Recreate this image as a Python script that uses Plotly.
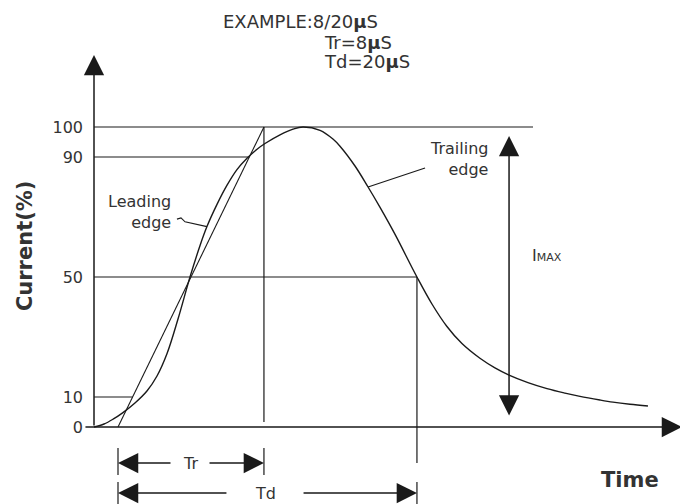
import numpy as np
import plotly.graph_objects as go

# Impulse current waveform (time in drawing units, current in % of peak)
time = [0, 0.67, 1.27, 1.93, 2.73, 3.53, 4.2, 4.87, 5.6, 6.4, 7.07, 7.53, 8.2, 8.87, 9.53,
        10.2, 10.87, 11.4, 12.4, 13.27, 13.93, 15.07, 15.93, 16.4, 17.4, 18.27, 19.07, 20.07,
        21.53, 22.53, 23.53, 24.53, 25.73, 26.73, 27.67, 28.93, 30.2, 31.4, 32.4, 33.73, 34.6,
        35.73, 36.93]
current = [0, 1.0, 2.6, 4.8, 8.0, 12.0, 17.0, 24.5, 36.0, 50, 60.5, 66.8, 74.2, 80.6, 85.8,
           89.6, 92.6, 94.5, 97.4, 99.3, 100, 98.9, 96.0, 93.6, 87.0, 80.0, 73.2, 64.2,
           50, 41.0, 33.5, 27.8, 22.9, 19.7, 17.3, 14.8, 12.8, 11.3, 10.2, 9.0, 8.3, 7.6, 7.0]

# Reference levels on the current axis
level_values = [0, 10, 50, 90, 100]
level_labels = ["0", "10", "50", "90", "100"]

# Front construction: virtual origin, rise span (Tr) and span to half value (Td)
t_origin = 1.6
tr_span = 9.73
td_span = 19.93
t_tr_end = t_origin + tr_span
t_td_end = t_origin + td_span

example_lines = ["EXAMPLE:8/20<b>μ</b>S", "Tr=8<b>μ</b>S", "Td=20<b>μ</b>S"]

INK = "#1a1a1a"
TXT = "#333333"
FONT = "DejaVu Sans"

t_peak = time[int(np.argmax(current))]
rise_t = [t for t in time if t <= t_peak]
rise_c = current[:len(rise_t)]
fall_t = time[len(rise_t) - 1:]
fall_c = current[len(rise_t) - 1:]


def front_line_t(pct):
    return t_origin + tr_span * pct / 100.0


def on_rise(t):
    return float(np.interp(t, rise_t, rise_c))


def on_fall(t):
    return float(np.interp(t, fall_t, fall_c))


fig = go.Figure()

# Straight front line through the virtual origin
fig.add_trace(go.Scatter(x=[t_origin, t_tr_end], y=[0, 100], mode="lines",
                         line=dict(color=INK, width=1.1), hoverinfo="skip"))
# Waveform
fig.add_trace(go.Scatter(x=time, y=current, mode="lines",
                         line=dict(color=INK, width=1.4, shape="spline", smoothing=1.0),
                         hoverinfo="skip"))

shapes = []


def seg(x0, y0, x1, y1, w=1.2):
    shapes.append(dict(type="line", xref="x", yref="y", x0=x0, y0=y0, x1=x1, y1=y1,
                       line=dict(color=INK, width=w)))


# Level lines
level_ends = {10: front_line_t(10), 50: t_td_end, 90: front_line_t(90), 100: 29.27}
for v in level_values[1:]:
    seg(0, v, level_ends[v], v)

# Verticals at end of rise and at half value on the tail
seg(t_tr_end, 100, t_tr_end, 1.67)
seg(t_td_end, 50, t_td_end, -12)

# End bars of the Tr / Td dimension arrows
tr_y, td_y = -12, -22
for xb in (t_origin, t_tr_end):
    seg(xb, -7, xb, -16)
for xb in (t_origin, t_td_end):
    seg(xb, -18.3, xb, -25.7)

# Leader lines to the leading and trailing edges
lead_t = 7.53
shapes.append(dict(type="path", xref="x", yref="y",
                   path=f"M5.53,69.3 L5.8,69.7 L6.07,68.4 L{lead_t},{on_rise(lead_t):.2f}",
                   line=dict(color=INK, width=1.1)))
trail_t = 18.27
seg(trail_t, on_fall(trail_t), 22.07, 86.3, w=1.1)

annotations = []


def arrow(x, y, ax, ay, both=False, standoff=0, startstandoff=0):
    a = dict(x=x, y=y, ax=ax, ay=ay, xref="x", yref="y", axref="x", ayref="y",
             text="", showarrow=True, arrowhead=2, arrowsize=2.7, arrowwidth=1.5,
             arrowcolor=INK, standoff=standoff)
    if both:
        a.update(arrowside="end+start", startarrowhead=2, startarrowsize=2.7,
                 startstandoff=startstandoff)
    annotations.append(a)


# Axes drawn as arrows
arrow(0, 124, 0, 0)
arrow(39.2, 0, -0.67, 0)

# I_MAX span
arrow(27.67, 100, 27.67, 0, both=True, standoff=9, startstandoff=10)

# Tr and Td dimension arrows with a gap for the label
tr_mid, tr_gap = 6.4, 1.2
td_mid, td_gap = 11.4, 2.47
arrow(t_origin, tr_y, tr_mid - tr_gap, tr_y)
arrow(t_tr_end, tr_y, tr_mid + tr_gap, tr_y)
arrow(t_origin, td_y, td_mid - td_gap, td_y)
arrow(t_td_end, td_y, td_mid + td_gap, td_y)


def label(text, x, y, size=16, xanchor="center", align="center", bold=False, angle=0,
          ref="x"):
    annotations.append(dict(
        x=x, y=y, xref=ref if ref == "paper" else "x", yref="paper" if ref == "paper" else "y",
        text=f"<b>{text}</b>" if bold else text, showarrow=False,
        xanchor=xanchor, yanchor="middle", align=align, textangle=angle,
        font=dict(family=FONT, size=size, color=TXT)))


label("Tr", tr_mid, tr_y)
label("Td", td_mid, td_y)
label("Leading<br>edge", 5.27, 71.8, xanchor="right", align="right")
label("Trailing<br>edge", 26.4, 89.5, xanchor="right", align="right")
label("I<span style='font-size:11px'>MAX</span>", 29.07, 57.1, xanchor="left")
label("Time", 37.8, -17.7, size=21, xanchor="right", bold=True)
label("Current(%)", -4.6, 60.3, size=21, bold=True, angle=-90)

# Example values above the chart
label(example_lines[0], 300 / 680, 1 - 22 / 504, size=18, ref="paper")
label(example_lines[1], 322 / 680, 1 - 42 / 504, size=18, xanchor="left", ref="paper")
label(example_lines[2], 322 / 680, 1 - 61 / 504, size=18, xanchor="left", ref="paper")

fig.update_layout(
    width=680, height=504, autosize=False,
    margin=dict(l=0, r=0, t=0, b=0),
    paper_bgcolor="white", plot_bgcolor="white",
    showlegend=False,
    shapes=shapes, annotations=annotations,
    xaxis=dict(range=[-94 / 15, 586 / 15], visible=False, fixedrange=True),
    yaxis=dict(range=[-25.667, 142.333], anchor="free", position=94 / 680,
               tickvals=level_values, ticktext=level_labels, ticks="",
               showgrid=False, zeroline=False, showline=False, automargin=False,
               ticklabelstandoff=11, fixedrange=True,
               tickfont=dict(family=FONT, size=16, color=TXT)),
)

fig.write_html("out.html")
